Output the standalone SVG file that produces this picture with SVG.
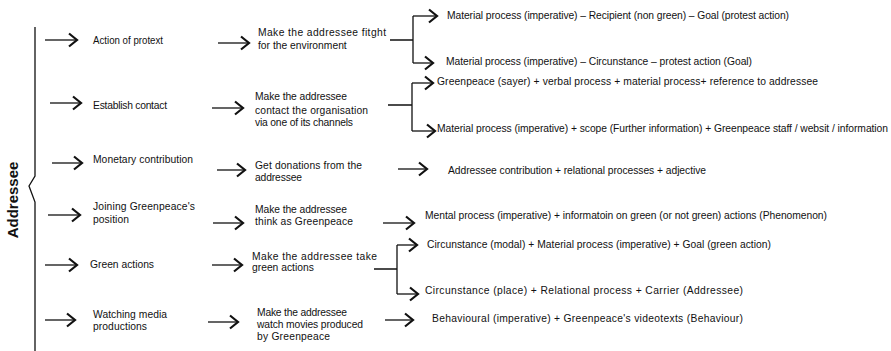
<svg xmlns="http://www.w3.org/2000/svg" width="891" height="351" viewBox="0 0 891 351">
<style>
text{font-family:"Liberation Sans",Arial,sans-serif;font-size:10.3px;fill:#111;}
.title{font-size:15px;font-weight:bold;}
.ln{stroke:#111;stroke-width:1.3;fill:none;}
.ar{stroke:#111;stroke-width:1.3;fill:none;marker-end:url(#ah);}
</style>
<defs>
<marker id="ah" markerUnits="userSpaceOnUse" viewBox="0 0 12 16" markerWidth="12" markerHeight="16" refX="10" refY="8" orient="auto">
<path d="M2,1.5 L10,8 L2,14.5" fill="none" stroke="#111" stroke-width="2.2"/>
</marker>
</defs>
<rect width="891" height="351" fill="#fff"/>
<g id="addressee">
<path class="ln" d="M35,27 V176 L29,186 L35,202 V351"/>
<text class="title" transform="translate(18,200) rotate(-90)" text-anchor="middle">Addressee</text>
</g>
<g id="connectors">
<path class="ar" d="M45,40 H77"/>
<path class="ar" d="M218,43 H249"/>
<path class="ln" d="M390,40 H413 M413,16 V63"/>
<path class="ar" d="M413,16 H437"/>
<path class="ar" d="M413,63 H433"/>
<path class="ar" d="M50,103 H81"/>
<path class="ar" d="M212,108 H243"/>
<path class="ln" d="M388,105 H412 M412,83 V131"/>
<path class="ar" d="M412,83 H433"/>
<path class="ar" d="M412,131 H435"/>
<path class="ar" d="M52,163 H82"/>
<path class="ar" d="M217,170 H245"/>
<path class="ar" d="M398,169 H427"/>
<path class="ar" d="M48,215 H80"/>
<path class="ar" d="M213,223 H243"/>
<path class="ar" d="M383,223 H414"/>
<path class="ar" d="M45,265 H77"/>
<path class="ar" d="M212,265 H242"/>
<path class="ln" d="M374,269 H397 M397,245 V294"/>
<path class="ar" d="M397,245 H417"/>
<path class="ar" d="M397,294 H418"/>
<path class="ar" d="M45,320 H75"/>
<path class="ar" d="M208,322 H238"/>
<path class="ar" d="M385,320 H413"/>
</g>
<g id="n1a"><text x="93" y="44" textLength="70" lengthAdjust="spacingAndGlyphs">Action of protext</text></g>
<g id="n1b"><text x="258" y="36" textLength="128">Make the addressee fitght</text><text x="258" y="49">for the environment</text></g>
<g id="n1c"><text x="447" y="19" textLength="342">Material process (imperative) – Recipient (non green) – Goal (protest action)</text></g>
<g id="n1d"><text x="446" y="65" textLength="306">Material process (imperative) – Circunstance  – protest action (Goal)</text></g>
<g id="n2a"><text x="93" y="109" textLength="74">Establish contact</text></g>
<g id="n2b"><text x="255" y="100" textLength="92">Make the addressee</text><text x="255" y="114" textLength="113"> contact the organisation</text><text x="255" y="126" textLength="98">via one of its channels</text></g>
<g id="n2c"><text x="437" y="85" textLength="381">Greenpeace (sayer) + verbal process + material process+ reference to addressee</text></g>
<g id="n2d"><text x="437" y="132" textLength="451">Material  process (imperative) + scope (Further information) + Greenpeace staff / websit / information</text></g>
<g id="n3a"><text x="93" y="163" textLength="100">Monetary contribution</text></g>
<g id="n3b"><text x="255" y="169" textLength="107">Get donations from the</text><text x="255" y="181" textLength="47">addressee</text></g>
<g id="n3c"><text x="448" y="174" textLength="258">Addressee contribution + relational processes + adjective</text></g>
<g id="n4a"><text x="93" y="210" textLength="102">Joining Greenpeace's</text><text x="93" y="223" textLength="36"> position</text></g>
<g id="n4b"><text x="255" y="213" textLength="92">Make the addressee</text><text x="255" y="225" textLength="98"> think as Greenpeace</text></g>
<g id="n4c"><text x="425" y="219" textLength="402">Mental process (imperative) + informatoin on green (or not green) actions (Phenomenon)</text></g>
<g id="n5a"><text x="90" y="268" textLength="64">Green actions</text></g>
<g id="n5b"><text x="252" y="260" textLength="125">Make the addressee take</text><text x="252" y="271">green actions</text></g>
<g id="n5c"><text x="427" y="248" textLength="344">Circunstance (modal) + Material process (imperative) + Goal (green action)</text></g>
<g id="n5d"><text x="425" y="294" textLength="318">Circunstance (place) + Relational  process + Carrier (Addressee)</text></g>
<g id="n6a"><text x="93" y="318" textLength="74">Watching media</text><text x="93" y="330" textLength="54">productions</text></g>
<g id="n6b"><text x="257" y="316" textLength="90">Make the addressee</text><text x="257" y="328" textLength="106">watch movies produced</text><text x="257" y="340" textLength="73">by Greenpeace</text></g>
<g id="n6c"><text x="432" y="322" textLength="311">Behavioural (imperative) + Greenpeace's videotexts (Behaviour)</text></g>
</svg>
